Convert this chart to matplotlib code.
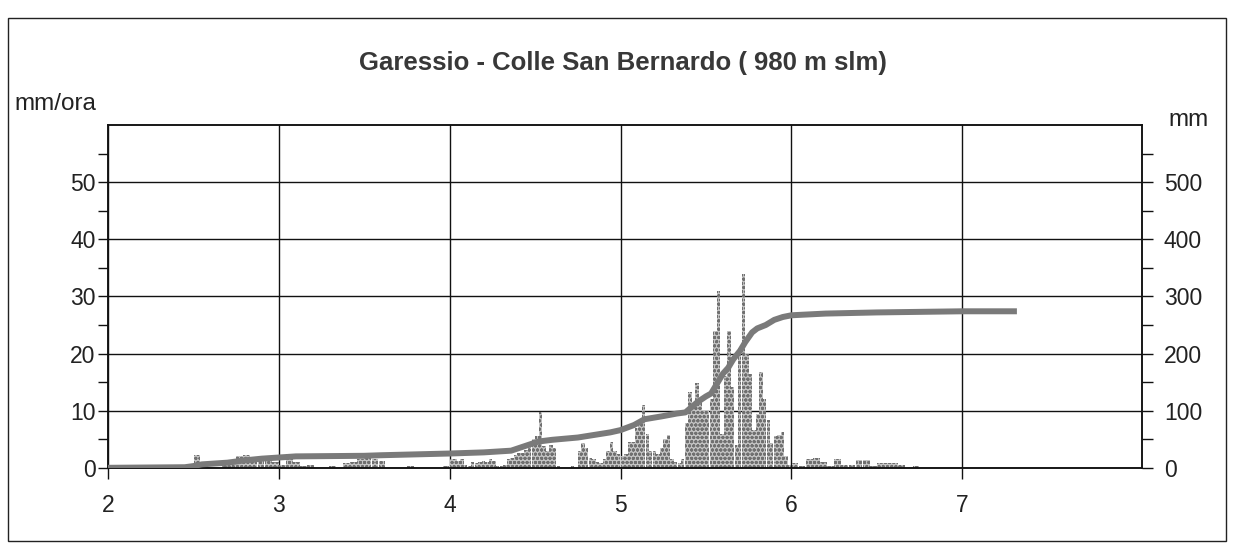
import matplotlib
matplotlib.use("Agg")
import matplotlib.pyplot as plt
from matplotlib.patches import Rectangle
import numpy as np

# -------- DATA --------
# hourly intensity (mm/ora), days 2, 3 and 6
rain_d2 = [0, 0, 0, 0, 0, 0, 0, 0, 0, 0, 0, 0.5, 2.2, 0.5, 0, 0,
           0.5, 0.8, 2.0, 2.2, 1.5, 1.2, 1.5, 1.0]
rain_d3 = [0.5, 2.5, 1.0, 0.3, 0.5, 0, 0, 0.3, 0, 0.8, 1.0, 1.5, 2.0, 1.5,
           1.2, 0, 0, 0, 0.3, 0, 0, 0, 0, 0.3]
rain_d6 = [0.8, 0.3, 1.5, 1.8, 1.0, 0.3, 1.5, 0.5, 0.5, 1.3, 1.3, 0.3,
           0.8, 0.8, 0.8, 0.5, 0, 0.3, 0, 0, 0, 0, 0, 0]
# half-hourly intensity (mm/ora), days 4 and 5
rain_d4 = [1.5, 1.5, 1.2, 1.5, 0.5, 0.3, 1.0, 0.8, 1.0, 1.2, 1.0, 1.5,
           1.2, 0.3, 0.3, 0.5, 1.5, 1.7, 2.2, 2.6, 2.6, 3.2, 4.0, 5.0,
           5.5, 9.8, 3.8, 3.0, 4.0, 3.5, 0.3, 0, 0, 0, 0.3, 0,
           3.0, 4.4, 3.5, 1.7, 1.5, 1.0, 0.8, 1.5, 3.0, 4.6, 2.9, 2.5]
rain_d5 = [2.1, 2.5, 4.5, 4.5, 7.0, 8.0, 11.0, 6.0, 3.0, 3.0, 2.4, 3.5,
           5.0, 5.8, 1.5, 1.0, 0.8, 1.5, 7.8, 13.3, 11.0, 14.8, 12.0, 10.1,
           10.1, 12.0, 24.0, 30.9, 6.0, 16.0, 23.9, 14.2, 4.0, 21.0, 34.0, 20.0,
           16.5, 6.6, 9.5, 16.8, 12.0, 8.4, 4.3, 5.5, 5.7, 6.3, 2.0, 0.5]

# cumulative rainfall (mm)
cum_day = [2.0, 2.45, 2.5, 2.55, 2.7, 2.8, 2.9, 3.0, 3.1, 3.5,
           3.6, 4.0, 4.2, 4.36, 4.46, 4.52, 4.6, 4.75, 4.94, 5.0,
           5.08, 5.14, 5.24, 5.33, 5.38, 5.45, 5.5, 5.53, 5.57, 5.6,
           5.63, 5.66, 5.7, 5.73, 5.77, 5.8, 5.85, 5.9, 5.95, 6.0,
           6.2, 6.5, 7.0, 7.32]
cum_mm = [0, 1, 3, 6, 9, 13, 16, 18, 20, 21,
          22, 25, 27, 30, 40, 46, 49, 53, 62, 66,
          75, 85, 90, 95, 97, 115, 125, 130, 150, 165,
          175, 190, 205, 220, 237, 244, 250, 259, 264, 267,
          270, 272, 274, 274]

title = "Garessio - Colle San Bernardo ( 980 m slm)"
x_ticks = [2, 3, 4, 5, 6, 7]

plt.rcParams['font.family'] = ['Liberation Sans', 'DejaVu Sans']

fig = plt.figure(figsize=(12.35, 5.51), dpi=100)
ax = fig.add_axes([0.0874, 0.151, 0.837, 0.622])
ax2 = ax.twinx()

# -------- BARS (stippled grey) --------
bar_style = dict(color='#c4c4c4', edgecolor='#707070', hatch='oooo',
                 linewidth=0, zorder=2, align='center')
for day, vals in [(2, rain_d2), (3, rain_d3), (6, rain_d6)]:
    x = [day + (h + 0.5) / 24 for h in range(len(vals))]
    ax.bar(x, vals, width=0.95 / 24, **bar_style)
for day, vals in [(4, rain_d4), (5, rain_d5)]:
    x = [day + (k + 0.5) / 48 for k in range(len(vals))]
    ax.bar(x, vals, width=0.95 / 48, **bar_style)

# -------- CUMULATIVE LINE --------
ax2.plot(cum_day, cum_mm, color='#7a7a7a', lw=4.3, solid_capstyle='butt', zorder=5)

# -------- AXES --------
ax.set_xlim(2, 8.05)
ax.set_ylim(0, 60)
ax2.set_ylim(0, 600)

ax.set_xticks(x_ticks)
ax.set_yticks([0, 10, 20, 30, 40, 50])
ax.set_yticks(np.arange(5, 60, 10), minor=True)
ax2.set_yticks([0, 100, 200, 300, 400, 500])
ax2.set_yticks(np.arange(50, 600, 100), minor=True)

for a in (ax, ax2):
    for s in a.spines.values():
        s.set_color('#111111')
        s.set_linewidth(1.1)

ax.grid(True, which='major', color='#111111', lw=1.0, zorder=1)
ax.set_axisbelow(True)

ax.tick_params(axis='y', which='both', direction='out', length=7, width=1,
               labelsize=16.5, pad=2, colors='#111111', labelcolor='#222222')
ax.tick_params(axis='x', which='major', direction='out', length=8, width=1,
               labelsize=16.5, pad=11, colors='#111111', labelcolor='#222222')
ax2.tick_params(axis='y', which='both', direction='out', length=8, width=1,
                labelsize=16.5, pad=8, colors='#111111', labelcolor='#222222')

fig.text(0.504, 0.886, title, ha='center', va='center', fontsize=18.5,
         fontweight='bold', color='#383838')
fig.text(0.0113, 0.811, "mm/ora", ha='left', va='center', fontsize=17.5, color='#222222')
fig.text(0.946, 0.782, "mm", ha='left', va='center', fontsize=17.5, color='#222222')

# outer frame of the scanned chart
fig.add_artist(Rectangle((0.0065, 0.018), 0.986, 0.950, transform=fig.transFigure,
                         fill=False, lw=1.0, edgecolor='#222222'))

fig.savefig("out.png", dpi=100)
